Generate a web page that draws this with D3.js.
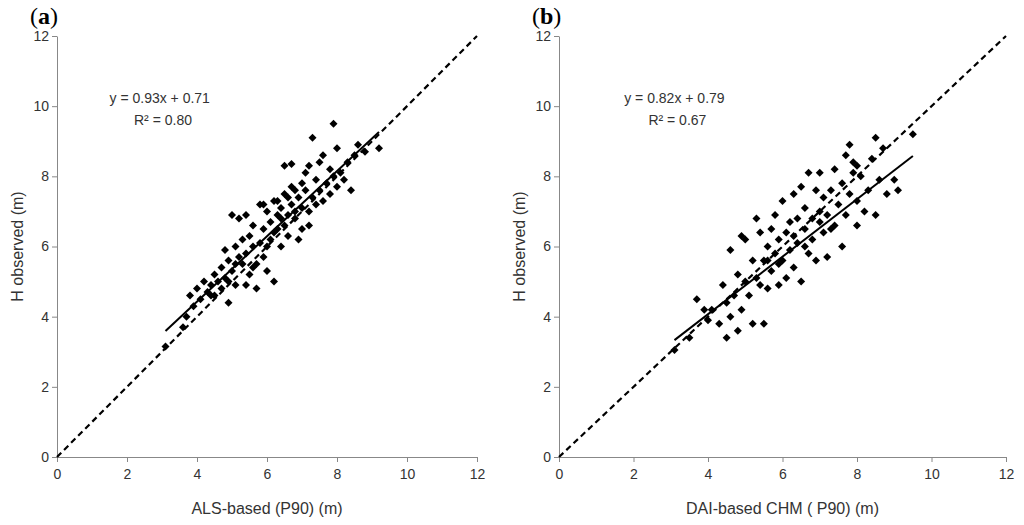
<!DOCTYPE html><html><head><meta charset="utf-8"><script src="https://cdn.jsdelivr.net/npm/d3@7"></script>
<style>body{margin:0;background:#fff}text{font-family:"Liberation Sans",Arial,sans-serif}</style></head><body><svg id="c" width="1024" height="525"></svg><script>
const ticks=[0,2,4,6,8,10,12];
const pointsA=[[3.1,3.15],[3.6,3.7],[3.7,4.0],[3.8,4.6],[3.9,4.3],[4.0,4.8],[4.1,4.5],[4.2,5.0],[4.3,4.7],[4.4,4.9],[4.5,5.2],[4.5,4.6],[4.6,5.0],[4.7,5.4],[4.7,4.8],[4.8,5.9],[4.8,5.1],[4.9,4.4],[4.9,5.6],[5.0,6.9],[5.0,5.3],[5.1,6.0],[5.1,4.9],[5.2,5.7],[5.2,6.8],[5.3,5.5],[5.3,6.2],[5.4,4.9],[5.4,5.8],[5.5,6.3],[5.5,5.2],[5.6,6.0],[5.6,6.6],[5.7,5.5],[5.7,4.8],[5.8,6.1],[5.8,7.2],[5.9,5.7],[5.9,6.5],[6.0,6.0],[6.0,7.0],[6.0,5.3],[6.1,6.7],[6.1,6.2],[6.2,7.3],[6.2,5.0],[6.3,6.5],[6.3,6.9],[6.4,7.1],[6.4,6.0],[6.5,7.5],[6.5,6.6],[6.5,8.3],[6.6,6.9],[6.6,6.3],[6.7,7.2],[6.7,7.7],[6.8,6.8],[6.8,7.0],[6.9,6.2],[6.9,7.4],[7.0,7.1],[7.0,6.5],[7.1,7.6],[7.1,8.1],[7.2,7.0],[7.2,6.6],[7.3,7.4],[7.3,9.1],[7.4,7.9],[7.4,7.2],[7.5,8.4],[7.5,7.6],[7.6,8.6],[7.6,7.3],[7.7,7.8],[7.8,8.2],[7.8,7.5],[7.9,9.5],[7.9,8.0],[8.0,7.7],[8.0,8.8],[8.1,8.1],[8.2,7.9],[8.3,8.4],[8.4,7.6],[8.5,8.6],[8.6,8.9],[8.8,8.7],[9.2,8.8],[6.7,8.35],[5.4,6.9],[4.4,4.6],[6.3,7.3],[7.2,8.3],[5.9,7.2],[6.8,7.6],[4.9,5.0],[5.6,5.4],[6.2,6.4],[6.6,7.4],[7.0,7.8],[5.1,5.5],[6.4,6.8]];
const pointsB=[[3.1,3.05],[3.5,3.4],[3.7,4.5],[3.9,4.2],[4.0,3.9],[4.1,4.2],[4.3,3.8],[4.4,4.9],[4.5,3.4],[4.5,4.4],[4.6,5.9],[4.6,4.0],[4.7,4.6],[4.8,3.6],[4.8,5.2],[4.9,6.3],[4.9,4.2],[5.0,5.0],[5.0,6.2],[5.1,4.6],[5.2,5.6],[5.2,3.8],[5.3,6.8],[5.3,5.1],[5.4,4.9],[5.4,6.4],[5.5,5.6],[5.5,3.8],[5.6,6.0],[5.6,4.8],[5.7,6.5],[5.7,5.3],[5.8,5.8],[5.8,6.9],[5.9,4.9],[5.9,6.2],[6.0,5.6],[6.0,7.3],[6.1,6.4],[6.1,5.1],[6.2,6.7],[6.2,5.9],[6.3,7.5],[6.3,5.4],[6.4,6.1],[6.4,6.8],[6.5,7.7],[6.5,5.0],[6.6,6.5],[6.6,7.1],[6.7,5.8],[6.7,8.1],[6.8,6.8],[6.8,6.2],[6.9,7.6],[6.9,5.6],[7.0,7.0],[7.0,8.1],[7.1,6.4],[7.1,7.4],[7.2,5.7],[7.2,6.9],[7.3,7.6],[7.4,6.6],[7.4,8.2],[7.5,7.2],[7.6,6.0],[7.6,7.8],[7.7,8.6],[7.7,6.9],[7.8,8.9],[7.8,7.5],[7.9,8.4],[8.0,6.6],[8.0,7.3],[8.1,8.0],[8.2,7.0],[8.3,7.6],[8.4,8.5],[8.5,9.1],[8.5,6.9],[8.6,7.9],[8.7,8.8],[8.8,7.5],[9.0,7.9],[9.1,7.6],[9.5,9.2],[7.9,8.1],[6.3,6.3],[5.6,5.6],[7.3,6.5],[8.0,8.3],[6.6,6.0],[5.9,5.5],[7.0,6.7]];
const panels=[
 {label:"a",pts:pointsA,fit:[0.93,0.71],fitX:[3.1,9.2],eq:"y = 0.93x + 0.71",r2:"R² = 0.80",eqX:1.5,r2X:2.2,xt:"ALS-based (P90) (m)",x0:57,x1:477},
 {label:"b",pts:pointsB,fit:[0.82,0.79],fitX:[3.1,9.5],eq:"y = 0.82x + 0.79",r2:"R² = 0.67",eqX:1.75,r2X:2.4,xt:"DAI-based  CHM ( P90) (m)",x0:559,x1:1006}];
const svg=d3.select("#c");
panels.forEach(p=>{
 const x=d3.scaleLinear().domain([0,12]).range([p.x0,p.x1]);
 const y=d3.scaleLinear().domain([0,12]).range([457,36]);
 const g=svg.append("g");
 g.append("g").attr("transform","translate(0,457)").call(d3.axisBottom(x).tickValues(ticks).tickSize(5).tickSizeOuter(0)).call(a=>{a.selectAll("text").attr("font-size",14).attr("fill","#333").attr("dy","1em");a.select(".domain").attr("stroke","#888");a.selectAll("line").attr("stroke","#888")});
 g.append("g").attr("transform",`translate(${p.x0},0)`).call(d3.axisLeft(y).tickValues(ticks).tickSize(5).tickSizeOuter(0)).call(a=>{a.selectAll("text").attr("font-size",14).attr("fill","#333");a.select(".domain").attr("stroke","#888");a.selectAll("line").attr("stroke","#888")});
 g.append("line").attr("x1",x(0)).attr("y1",y(0)).attr("x2",x(12)).attr("y2",y(12)).attr("stroke","#000").attr("stroke-width",2.2).attr("stroke-dasharray","6,4");
 g.selectAll("path.pt").data(p.pts).join("path").attr("d",d3.symbol(d3.symbolSquare,32)).attr("transform",d=>`translate(${x(d[0])},${y(d[1])}) rotate(45)`).attr("fill","#000");
 g.append("line").attr("x1",x(p.fitX[0])).attr("y1",y(p.fit[0]*p.fitX[0]+p.fit[1])).attr("x2",x(p.fitX[1])).attr("y2",y(p.fit[0]*p.fitX[1]+p.fit[1])).attr("stroke","#000").attr("stroke-width",2);
 g.append("text").attr("x",x(p.eqX)).attr("y",y(10.1)).attr("font-size",14).attr("fill","#333").text(p.eq);
 g.append("text").attr("x",x(p.r2X)).attr("y",y(9.45)).attr("font-size",14).attr("fill","#333").text(p.r2);
 g.append("text").attr("x",(p.x0+p.x1)/2).attr("y",514).attr("text-anchor","middle").attr("font-size",16).attr("fill","#333").text(p.xt);
 g.append("text").attr("transform",`translate(${p.x0-34},${(36+457)/2}) rotate(-90)`).attr("text-anchor","middle").attr("font-size",16).attr("fill","#333").text("H observed (m)");
 const t=g.append("text").attr("x",p.x0-27).attr("y",24).attr("font-size",24).style("font-family","'Liberation Serif',serif");
 t.append("tspan").text("(");t.append("tspan").attr("font-weight","bold").text(p.label);t.append("tspan").text(")");
});
</script></body></html>
